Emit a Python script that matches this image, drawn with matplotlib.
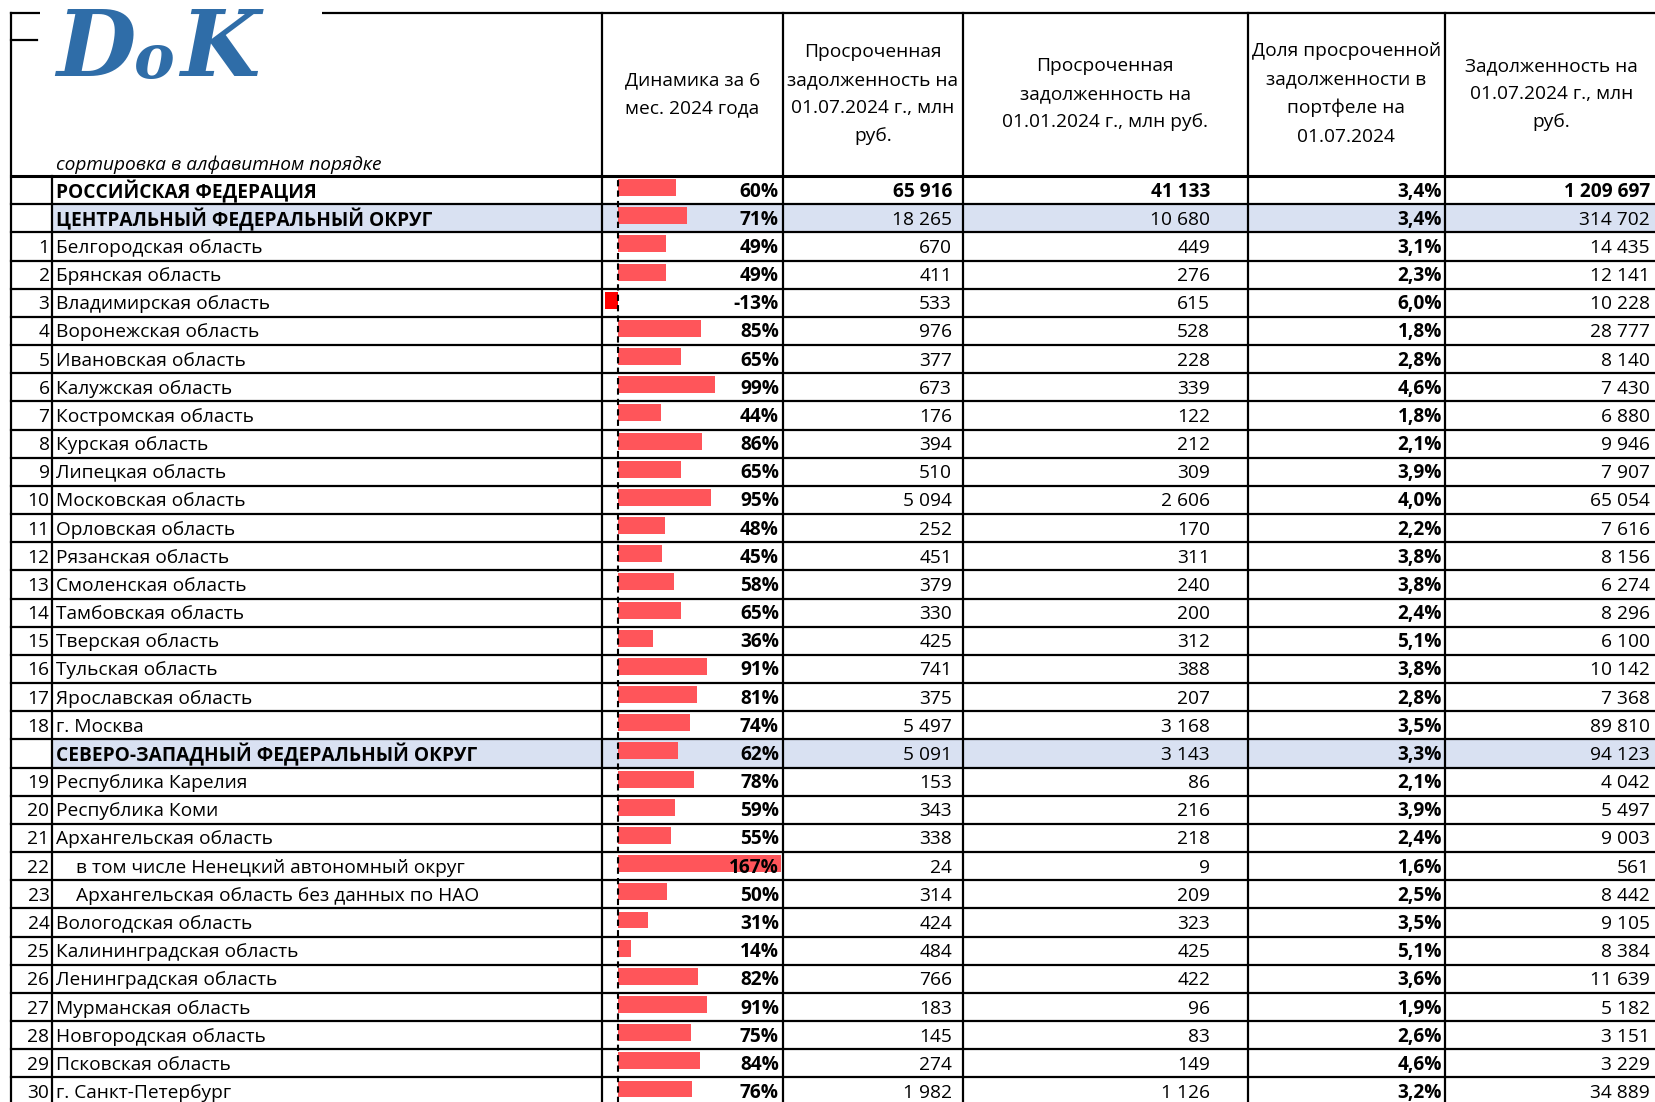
"""Table of overdue debt by region with in-cell data bars."""
import matplotlib
matplotlib.use("Agg")
import matplotlib.pyplot as plt
from matplotlib.patches import Rectangle
import numpy as np

plt.rcParams["font.family"] = ["Open Sans", "DejaVu Sans"]

# --- data -------------------------------------------------------------------
row_kind = ["rf", "fo"] + ["reg"] * 18 + ["fo"] + ["reg"] * 3 + ["sub"] * 2 + ["reg"] * 7
row_numbers = ["", ""] + [str(i) for i in range(1, 19)] + [""] + [str(i) for i in range(19, 31)]
row_labels = [
    "РОССИЙСКАЯ ФЕДЕРАЦИЯ",
    "ЦЕНТРАЛЬНЫЙ ФЕДЕРАЛЬНЫЙ ОКРУГ",
    "Белгородская область",
    "Брянская область",
    "Владимирская область",
    "Воронежская область",
    "Ивановская область",
    "Калужская область",
    "Костромская область",
    "Курская область",
    "Липецкая область",
    "Московская область",
    "Орловская область",
    "Рязанская область",
    "Смоленская область",
    "Тамбовская область",
    "Тверская область",
    "Тульская область",
    "Ярославская область",
    "г. Москва",
    "СЕВЕРО-ЗАПАДНЫЙ ФЕДЕРАЛЬНЫЙ ОКРУГ",
    "Республика Карелия",
    "Республика Коми",
    "Архангельская область",
    "в том числе Ненецкий автономный округ",
    "Архангельская область без данных по НАО",
    "Вологодская область",
    "Калининградская область",
    "Ленинградская область",
    "Мурманская область",
    "Новгородская область",
    "Псковская область",
    "г. Санкт-Петербург",
]
dynamics_pct = [60, 71, 49, 49, -13, 85, 65, 99, 44, 86, 65, 95, 48, 45, 58, 65, 36, 91, 81, 74,
                62, 78, 59, 55, 167, 50, 31, 14, 82, 91, 75, 84, 76]
overdue_jul = [65916, 18265, 670, 411, 533, 976, 377, 673, 176, 394, 510, 5094, 252, 451, 379, 330,
               425, 741, 375, 5497, 5091, 153, 343, 338, 24, 314, 424, 484, 766, 183, 145, 274, 1982]
overdue_jan = [41133, 10680, 449, 276, 615, 528, 228, 339, 122, 212, 309, 2606, 170, 311, 240, 200,
               312, 388, 207, 3168, 3143, 86, 216, 218, 9, 209, 323, 425, 422, 96, 83, 149, 1126]
overdue_share = [3.4, 3.4, 3.1, 2.3, 6.0, 1.8, 2.8, 4.6, 1.8, 2.1, 3.9, 4.0, 2.2, 3.8, 3.8, 2.4,
                 5.1, 3.8, 2.8, 3.5, 3.3, 2.1, 3.9, 2.4, 1.6, 2.5, 3.5, 5.1, 3.6, 1.9, 2.6, 4.6, 3.2]
debt_jul = [1209697, 314702, 14435, 12141, 10228, 28777, 8140, 7430, 6880, 9946, 7907, 65054, 7616,
            8156, 6274, 8296, 6100, 10142, 7368, 89810, 94123, 4042, 5497, 9003, 561, 8442, 9105,
            8384, 11639, 5182, 3151, 3229, 34889]

headers = [
    "Динамика за 6\nмес. 2024 года",
    "Просроченная\nзадолженность на\n01.07.2024 г., млн\nруб.",
    "Просроченная\nзадолженность на\n01.01.2024 г., млн руб.",
    "Доля просроченной\nзадолженности в\nпортфеле на\n01.07.2024",
    "Задолженность на\n01.07.2024 г., млн\nруб.",
]


def fmt_int(v):
    return f"{v:,}".replace(",", " ")


# --- layout (pixels) ----------------------------------------------------------
W, H = 1655, 1102
col_x = [10.5, 51.5, 601.5, 783, 962.5, 1247.5, 1445, 1658]
value_right = [779, 952, 1210, 1442, 1650]
header_top = 12.7
header_bot = 176
row_h = 28.17
n = len(row_labels)
bar_axis_x = 617.5
px_per_pct = 0.98
band = "#D9E1F2"
fs = 13.8
lw = 1.6

fig = plt.figure(figsize=(W / 100, H / 100), dpi=100)

# background layer: row bands
bg = fig.add_axes([0, 0, 1, 1], zorder=0)
bg.set_xlim(0, W)
bg.set_ylim(H, 0)
bg.axis("off")
for i, k in enumerate(row_kind):
    if k == "fo":
        bg.add_patch(Rectangle((col_x[1], header_bot + i * row_h), col_x[-1] - col_x[1], row_h,
                               color=band, lw=0))

# data bar layer
tbl_h = n * row_h
bax = fig.add_axes([col_x[2] / W, (H - header_bot - tbl_h) / H,
                    (col_x[3] - col_x[2]) / W, tbl_h / H], zorder=1)
bax.set_xlim((col_x[2] - bar_axis_x) / px_per_pct, (col_x[3] - bar_axis_x) / px_per_pct)
bax.set_ylim(n, 0)
bax.axis("off")
bar_colors = ["#FF555A" if v >= 0 else "#FF0000" for v in dynamics_pct]
bax.barh(np.arange(n) + 0.41, dynamics_pct, height=0.6, color=bar_colors, lw=0)
bax.axvline(0, color="black", lw=1.5, ls=(0, (3, 2)))

# grid and text layer
ax = fig.add_axes([0, 0, 1, 1], zorder=2)
ax.set_xlim(0, W)
ax.set_ylim(H, 0)
ax.axis("off")
ax.patch.set_alpha(0)

# header lines
ax.plot([col_x[0], W], [header_top, header_top], color="black", lw=lw)
ax.plot([col_x[0], 37], [40, 40], color="black", lw=lw)
for j, x in enumerate(col_x[:-1]):
    top = header_bot if j == 1 else header_top
    ax.plot([x, x], [top, H], color="black", lw=lw)
for i in range(n + 1):
    y = header_bot + i * row_h
    ax.plot([col_x[0], col_x[-1]], [y, y], color="black", lw=2.2 if i == 0 else lw)

# logo
ax.add_patch(Rectangle((40, 0), 282, 92, color="white", lw=0, zorder=3))
logo = dict(color="#2F6DA8", family="DejaVu Serif", style="italic", weight="bold",
            va="baseline", zorder=4)
ax.text(56, 76, "D", fontsize=66, **logo)
ax.text(134, 78, "o", fontsize=44, **logo)
ax.text(180, 76, "K", fontsize=66, **logo)

ax.text(56, 165, "сортировка в алфавитном порядке", fontsize=fs, style="italic", va="center")

for j, h in enumerate(headers):
    xc = (col_x[j + 2] + col_x[j + 3]) / 2
    ax.text(xc, 94, h, fontsize=fs, ha="center", va="center", linespacing=1.72)

# rows
for i in range(n):
    y = header_bot + (i + 0.5) * row_h + 1.5
    k = row_kind[i]
    bold_all = k == "rf"
    name_w = "bold" if k in ("rf", "fo") else "normal"
    num_w = "bold" if bold_all else "normal"
    ax.text(49.5, y, row_numbers[i], fontsize=fs, ha="right", va="center")
    x_name = 76 if k == "sub" else 56
    ax.text(x_name, y, row_labels[i], fontsize=fs, ha="left", va="center", weight=name_w)
    vals = [f"{dynamics_pct[i]}%", fmt_int(overdue_jul[i]), fmt_int(overdue_jan[i]),
            f"{overdue_share[i]:.1f}%".replace(".", ","), fmt_int(debt_jul[i])]
    weights = ["bold", num_w, num_w, "bold", num_w]
    for x, v, w in zip(value_right, vals, weights):
        ax.text(x, y, v, fontsize=fs, ha="right", va="center", weight=w)

fig.savefig("out.png", dpi=100)
plt.close(fig)
